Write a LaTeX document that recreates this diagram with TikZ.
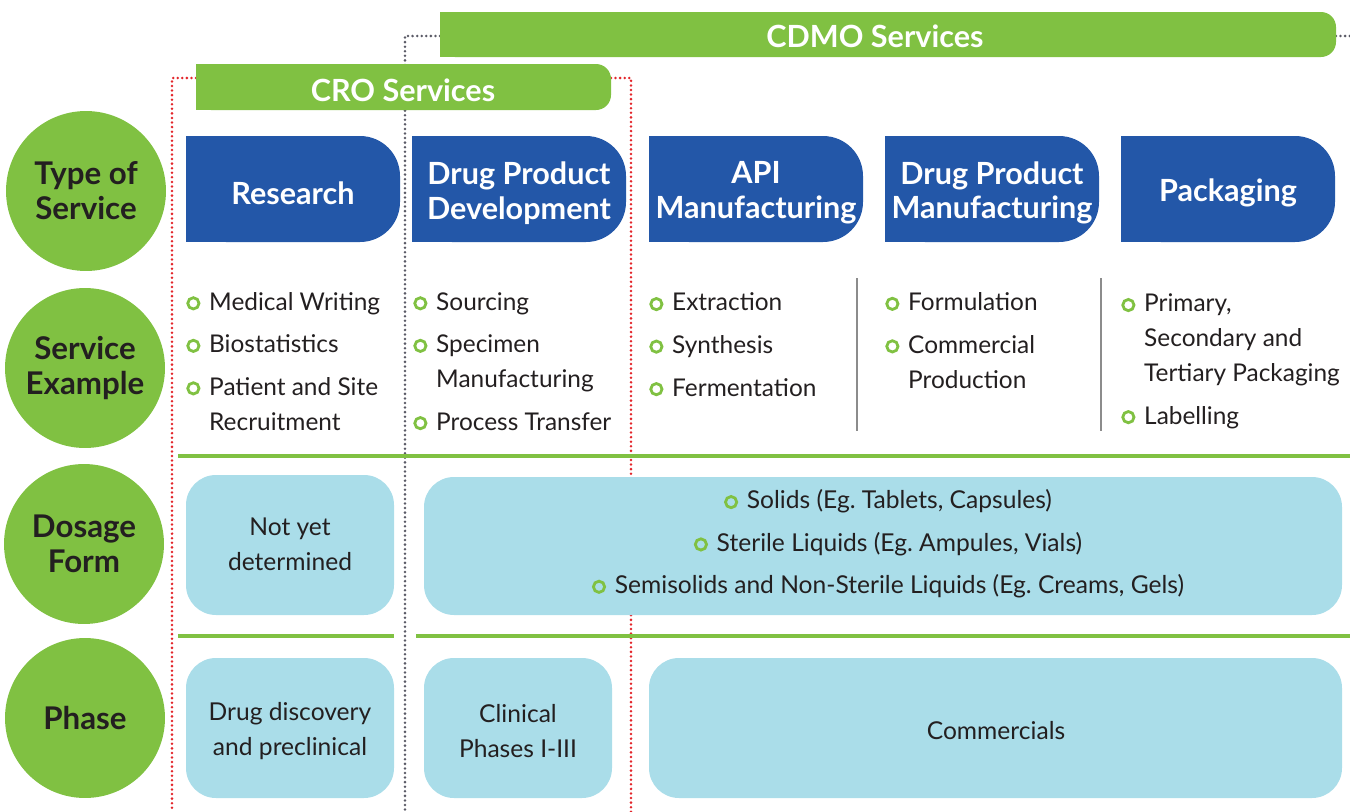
\documentclass[tikz,border=0pt]{standalone}
\usepackage{fontspec}
\setmainfont{Lato}
\usepackage{tikz}
\usetikzlibrary{positioning}
\definecolor{leafgreen}{HTML}{80C142}
\definecolor{svcblue}{HTML}{2357A8}
\definecolor{paleblue}{HTML}{AADDE9}
\definecolor{inkgrey}{HTML}{231F20}
\definecolor{rulegrey}{HTML}{8C8C8C}
\definecolor{dotgrey}{HTML}{5A5A66}
\definecolor{dotred}{HTML}{E3262B}
\frenchspacing

% green ring used as bullet
\newcommand{\bul}{\tikz[baseline=0pt]\draw[leafgreen,line width=1.6pt] (0pt,3.9pt) circle[radius=3.2pt];\hspace{5pt}}
\newcommand{\nobul}{\hphantom{\bul}}

\begin{document}
\begin{tikzpicture}[x=0.02cm, y=-0.02cm,
   cat/.style={circle, fill=leafgreen, minimum size=3.2cm, inner sep=0pt, align=center,
     text=inkgrey, font=\fontsize{17.8}{19.8}\selectfont\bfseries},
   headtxt/.style={align=center, text=white, inner sep=0pt, font=\fontsize{17.4}{19.8}\selectfont\bfseries},
   bartxt/.style={text=white, inner sep=0pt, font=\fontsize{17.4}{20}\selectfont\bfseries},
   listtxt/.style={align=left, text=inkgrey, inner sep=0pt, anchor=base west, font=\fontsize{13.9}{19.8}\selectfont},
   boxtxt/.style={align=center, text=inkgrey, inner sep=0pt, font=\fontsize{14}{19.8}\selectfont},
   cell/.style={fill=paleblue, rounded corners=0.6cm},
   dots/.style={line width=1.6pt, line cap=round, dash pattern=on 0pt off 2.6pt}]
   \useasboundingbox (0,0) rectangle (1350,812);

   % dotted brackets of the two service groups
   \draw[dots, dotgrey] (440,36) -- (405,36) -- (405,812);
   \draw[dots, dotgrey] (1336,36) -- (1350,36);
   \draw[dots, dotred] (196,78) -- (172,78) -- (172,812);
   \draw[dots, dotred] (611,78) -- (631,78) -- (631,812);

   % service bars
   \fill[leafgreen, rounded corners=0.3cm] (440,12) rectangle (1336,57);
   \fill[leafgreen] (440,12) rectangle (900,57);
   \node[bartxt] (cdmo) at (875,36) {CDMO Services};
   \fill[leafgreen, rounded corners=0.3cm] (196,64) rectangle (611,110);
   \fill[leafgreen] (196,64) rectangle (400,110);
   \node[bartxt] (cro) at (403,90) {CRO Services};

   % row titles
   \node[cat] (type) at (86,191) {Type of\\Service};
   \node[cat] (example) at (85,368) {Service\\Example};
   \node[cat] (dosage) at (84,544) {Dosage\\Form};
   \node[cat] (phase) at (85,718) {Phase};

   % type of service
   \foreach \xa/\nm/\txt in {186/research/Research, 412/dpdev/{Drug Product\\Development},
       649/api/{API\\Manufacturing}, 885/dpman/{Drug Product\\Manufacturing}, 1121/pack/Packaging} {
     \fill[svcblue, rounded corners=0.8cm] (\xa,136) rectangle ++(214,106);
     \fill[svcblue] (\xa,136) rectangle ++(100,106);
     \node[headtxt] (\nm) at (\xa+107,193) {\txt};
   }

   % service examples (placed by the baseline of the last line)
   \draw[rulegrey, line width=1.5pt] (857,278) -- (857,431);
   \draw[rulegrey, line width=1.5pt] (1101,278) -- (1101,431);
   \node[listtxt] (ex1) at (186,430) {\bul Medical Writing\\[4.4pt]\bul Biostatistics\\[4.4pt]\bul Patient and Site\\\nobul Recruitment};
   \node[listtxt] (ex2) at (413,430) {\bul Sourcing\\[4.4pt]\bul Specimen\\\nobul Manufacturing\\[4.4pt]\bul Process Transfer};
   \node[listtxt] (ex3) at (649,396) {\bul Extraction\\[4.4pt]\bul Synthesis\\[4.4pt]\bul Fermentation};
   \node[listtxt] (ex4) at (885,388) {\bul Formulation\\[4.4pt]\bul Commercial\\\nobul Production};
   \node[listtxt] (ex5) at (1121,424) {\bul Primary,\\\nobul Secondary and\\\nobul Tertiary Packaging\\[4.4pt]\bul Labelling};

   % row rules
   \draw[leafgreen, line width=2pt] (178,456) -- (1350,456);
   \draw[leafgreen, line width=2pt] (178,636) -- (394,636);
   \draw[leafgreen, line width=2pt] (416,636) -- (1350,636);

   % dosage form
   \fill[cell] (186,475) rectangle (394,615);
   \node[boxtxt] (tbd) at (290,544) {Not yet\\determined};
   \fill[cell] (424,477) rectangle (1342,615);
   \node[boxtxt, font=\fontsize{14}{24.1}\selectfont] (forms) at (888,544)
     {\bul Solids (Eg. Tablets, Capsules)\\\bul Sterile Liquids (Eg. Ampules, Vials)\\\bul Semisolids and Non-Sterile Liquids (Eg. Creams, Gels)};

   % phase
   \fill[cell] (186,658) rectangle (394,798);
   \node[boxtxt] (disc) at (290,731) {Drug discovery\\and preclinical};
   \fill[cell] (424,658) rectangle (612,798);
   \node[boxtxt] (clin) at (518,731) {Clinical\\Phases I-III};
   \fill[cell] (649,658) rectangle (1342,798);
   \node[boxtxt] (comm) at (996,731) {Commercials};
\end{tikzpicture}
\end{document}
